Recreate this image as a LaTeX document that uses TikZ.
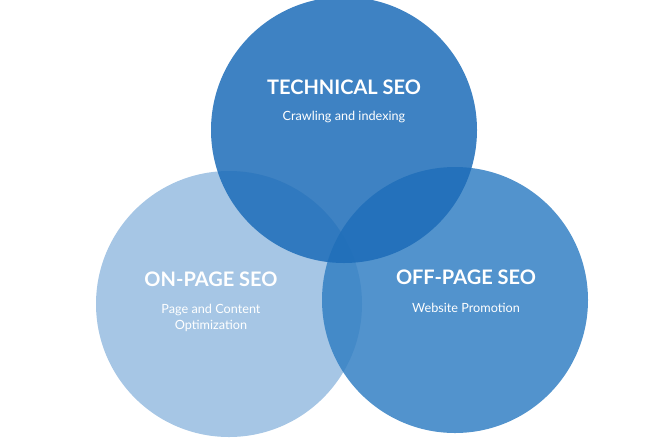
\documentclass[tikz,border=0pt]{standalone}
\usepackage{fontspec}
\setmainfont{Lato}
\definecolor{onpage}{RGB}{150,188,224}
\definecolor{offpage}{RGB}{52,128,196}
\definecolor{techseo}{RGB}{28,108,184}
\tikzset{every picture/.style={line width=0.75pt}}
\tikzset{
  seotitle/.style={text=white,font=\bfseries\fontsize{15}{18}\selectfont,inner sep=0.75pt},
  seosub/.style={text=white,font=\fontsize{9.5}{12}\selectfont,align=center,inner sep=0.75pt}
}
\begin{document}
\begin{tikzpicture}[x=0.75pt,y=0.75pt,yscale=-1,xscale=1]
\useasboundingbox (0,0) rectangle (660,440);
% circles
\fill [onpage,fill opacity=0.85] (229,304) circle (133);
\fill [offpage,fill opacity=0.85] (455,300) circle (133);
\fill [techseo,fill opacity=0.85] (344,130) circle (133);
% Text Node
\node [seotitle] (tech) at (344,87) {TECHNICAL SEO};
\node [seosub] (techsub) at (344,117) {Crawling and indexing};
\node [seotitle] (on) at (211,279) {ON-PAGE SEO};
\node [seosub] (onsub) at (211,318) {Page and Content\\Optimization};
\node [seotitle] (off) at (466,277) {OFF-PAGE SEO};
\node [seosub] (offsub) at (466,308) {Website Promotion};
\end{tikzpicture}
\end{document}
